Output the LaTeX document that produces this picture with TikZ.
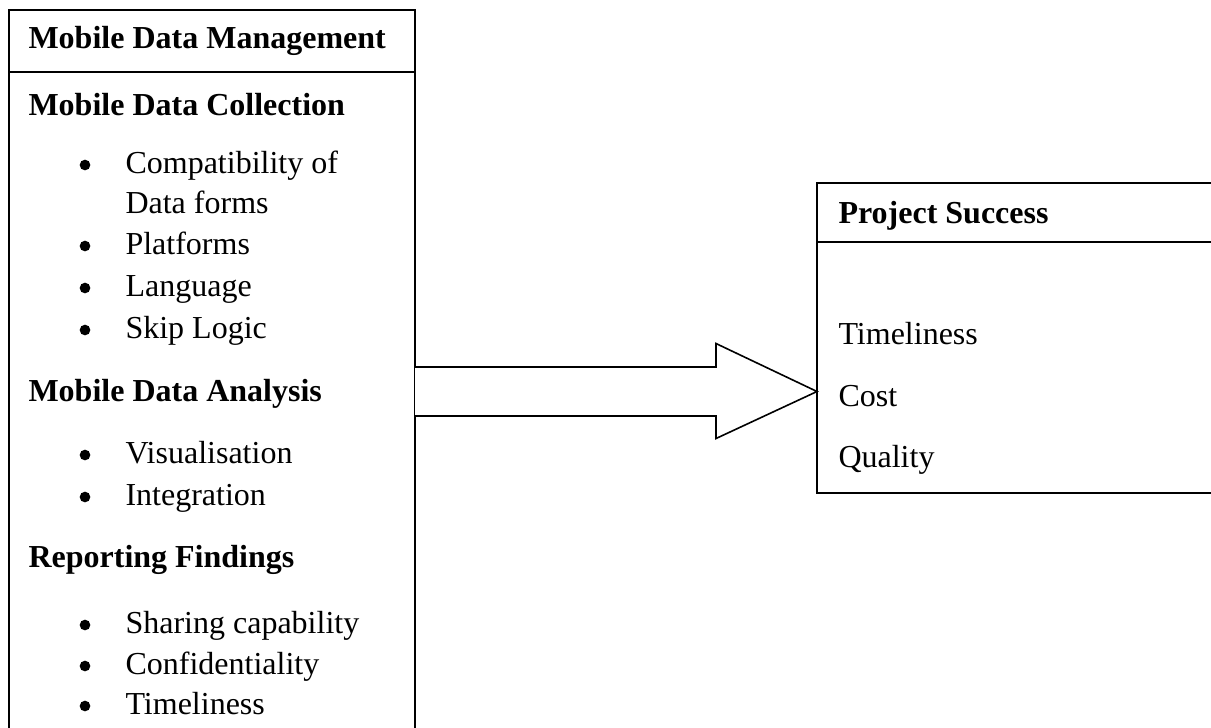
\documentclass[tikz,border=0pt]{standalone}
\usepackage{fontspec}
\setmainfont{Liberation Serif}
\usetikzlibrary{calc,positioning}

\begin{document}
\begin{tikzpicture}[x=0.375pt,y=-0.375pt]
  % Estilos para cajas y textos
    \tikzstyle{panel} = [draw, line width=0.8pt];
  \tikzstyle{rule} = [draw, line width=0.6pt];
  \tikzstyle{heading} = [anchor=base west, inner sep=0pt, font=\fontsize{12}{14}\selectfont\bfseries];
  \tikzstyle{entry} = [anchor=base west, inner sep=0pt, font=\fontsize{12}{14}\selectfont];
  \tikzstyle{dot} = [circle, fill, inner sep=0pt, minimum size=4pt];
  \tikzstyle{blockarrow} = [draw, line width=0.6pt, line join=miter, fill=white];

  \useasboundingbox (0,0) rectangle (1211,727);
  \clip (0,0) rectangle (1211,727);

  % Caja izquierda (Mobile Data Management)
    \coordinate (lefttop) at (9,10);
  \coordinate (leftbot) at (415,780);
  \draw [panel] (lefttop) rectangle (leftbot);
  \draw [rule] (9,72) -- (415,72);
  \node [heading] (mdm) at (28,48) {Mobile Data Management};

  % Mobile Data Collection
    \node [heading] (collect) at (28,115) {Mobile Data Collection};
  \node [entry] (compat) at (125,173) {Compatibility of};
  \node [entry] (forms) at (125,213) {Data forms};
  \node [entry] (platforms) at (125,254) {Platforms};
  \node [entry] (language) at (125,296) {Language};
  \node [entry] (skip) at (125,338) {Skip Logic};
  \foreach \item in {compat,platforms,language,skip}
    \node [dot] at ($(\item.base west)+(-40,-8)$) {};

  % Mobile Data Analysis
    \node [heading] (analysis) at (28,401) {Mobile Data Analysis};
  \node [entry] (visual) at (125,463) {Visualisation};
  \node [entry] (integr) at (125,505) {Integration};
  \foreach \item in {visual,integr}
    \node [dot] at ($(\item.base west)+(-40,-8)$) {};

  % Reporting Findings
    \node [heading] (report) at (28,567) {Reporting Findings};
  \node [entry] (sharing) at (125,633) {Sharing capability};
  \node [entry] (confid) at (125,674) {Confidentiality};
  \node [entry] (timely) at (125,714) {Timeliness};
  \foreach \item in {sharing,confid,timely}
    \node [dot] at ($(\item.base west)+(-40,-8)$) {};

  % Caja derecha (Project Success)
    \coordinate (righttop) at (817,183);
  \coordinate (rightbot) at (1260,493);
  \draw [panel] (righttop) rectangle (rightbot);
  \draw [rule] (817,242) -- (1211,242);
  \node [heading] (success) at (838,223) {Project Success};
  \node [entry] (time) at (838,344) {Timeliness};
  \node [entry] (cost) at (838,406) {Cost};
  \node [entry] (quality) at (838,467) {Quality};

  % Flecha gruesa entre las cajas
    \coordinate (src) at (415,391.5);
  \coordinate (dst) at (817,391.5);
  \draw [blockarrow] ($(src)+(0,-24.5)$) -- ($(dst)+(-101,-24.5)$) -- ($(dst)+(-101,-48)$)
    -- (dst) -- ($(dst)+(-101,47)$) -- ($(dst)+(-101,24.5)$) -- ($(src)+(0,24.5)$);
\end{tikzpicture}
\end{document}
